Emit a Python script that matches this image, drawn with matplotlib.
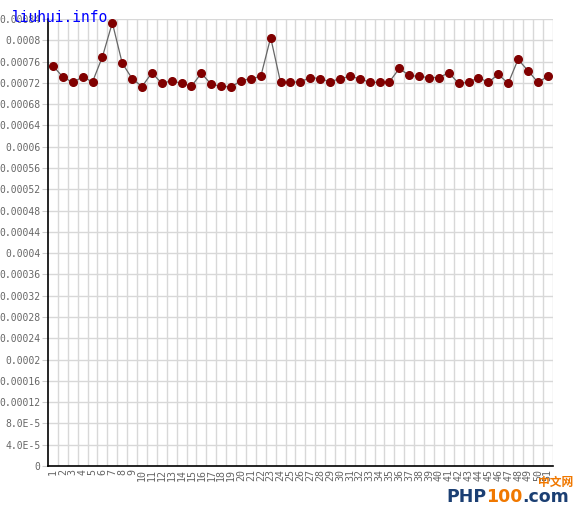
import matplotlib
matplotlib.use("Agg")
import matplotlib.pyplot as plt
import numpy as np

# values, one per x position 1..51
x_labels = [str(i) for i in range(1, 52)]
values = [0.000752, 0.000731, 0.000721, 0.000731, 0.000722, 0.000769, 0.000833, 0.000757,
          0.000728, 0.000713, 0.000739, 0.000719, 0.000724, 0.000719, 0.000714, 0.000738,
          0.000717, 0.000714, 0.000712, 0.000724, 0.000728, 0.000732, 0.000805, 0.000721,
          0.000721, 0.000722, 0.000730, 0.000728, 0.000722, 0.000728, 0.000732, 0.000728,
          0.000721, 0.000721, 0.000722, 0.000747, 0.000734, 0.000732, 0.000730, 0.000730,
          0.000739, 0.000719, 0.000721, 0.000730, 0.000721, 0.000736, 0.000719, 0.000764,
          0.000743, 0.000721, 0.000732]

y_ticks = [i * 0.00004 for i in range(22)]
y_labels = ["0", "4.0E-5", "8.0E-5", "0.00012", "0.00016", "0.0002", "0.00024", "0.00028",
            "0.00032", "0.00036", "0.0004", "0.00044", "0.00048", "0.00052", "0.00056",
            "0.0006", "0.00064", "0.00068", "0.00072", "0.00076", "0.0008", "0.00084"]

fig = plt.figure(figsize=(5.79, 5.09), dpi=100)
ax = fig.add_axes([48 / 579, 1 - 466 / 509, (552.7 - 48) / 579, (466 - 19) / 509])

xs = np.arange(1, len(values) + 1)
ax.plot(xs, values, color="#666666", lw=0.9, zorder=3)
ax.plot(xs, values, "o", color="#800000", ms=5.5, mec="#800000", zorder=4)

ax.set_xlim(0.5, len(values) + 0.5)
ax.set_ylim(0, 0.00084)

# grid lines sit between points
ax.set_xticks(np.arange(1.5, len(values) + 0.6, 1), minor=True)
ax.set_xticks(xs)
ax.set_xticklabels(x_labels, rotation=90, fontsize=7.2, family="DejaVu Sans Mono", color="#666666")
ax.set_yticks(y_ticks)
ax.set_yticklabels(y_labels, fontsize=7, family="DejaVu Sans Mono", color="#666666")
ax.grid(True, which="minor", axis="x", color="#d8d8d8", lw=1)
ax.grid(True, which="major", axis="y", color="#d8d8d8", lw=1)
ax.tick_params(axis="x", which="both", length=0, pad=2)
ax.tick_params(axis="y", length=4, color="#cccccc", pad=1.5)

for s in ["top", "right"]:
    ax.spines[s].set_visible(False)
for s in ["left", "bottom"]:
    ax.spines[s].set_color("black")
    ax.spines[s].set_linewidth(1.2)

fig.text(12 / 579, 1 - 18 / 509, "liuhui.info", color="#0000ff", fontsize=10.5,
         family="DejaVu Sans Mono", va="center", ha="left")

# watermark, pieces chained one after another
renderer = fig.canvas.get_renderer()
x0 = 446
for piece, col in [("PHP", "#1b3f73"), ("100", "#f07800"), (".com", "#1b3f73")]:
    t = fig.text(x0 / 579, 1 - 497 / 509, piece, color=col, fontsize=12.5, weight="bold",
                 va="center", ha="left", family="DejaVu Sans")
    x0 += t.get_window_extent(renderer).width
fig.text(538 / 579, 1 - 482 / 509, "中文网", color="#f07800", fontsize=8.5, weight="bold",
         family=["Noto Sans CJK SC", "DejaVu Sans"], va="center", ha="left")

fig.savefig("out.png", dpi=100)
